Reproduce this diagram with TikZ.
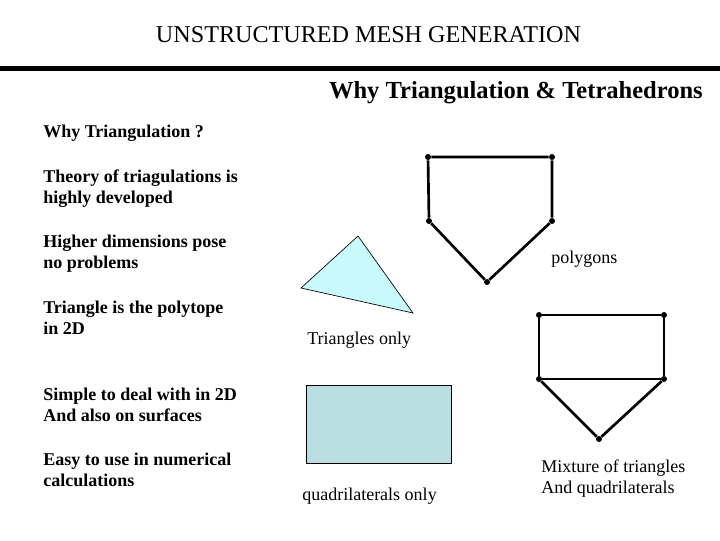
\documentclass[tikz,border=0pt]{standalone}
\usepackage{fontspec}
\setmainfont{Liberation Serif}
\usetikzlibrary{positioning}
\definecolor{trifill}{HTML}{C8FAFC}
\definecolor{quadfill}{HTML}{BADFE2}

\begin{document}
\begin{tikzpicture}[x=0.75pt,y=-0.75pt,
  vtx/.style={circle,fill=black,inner sep=0pt,minimum size=4.5pt},
  edge/.style={line width=2pt,line join=round},
  why/.style={anchor=west,align=left,inner sep=0pt,font=\bfseries\fontsize{13.5}{15.75}\selectfont},
  lbl/.style={anchor=west,align=left,inner sep=0pt,font=\fontsize{13.5}{15.75}\selectfont}]
\useasboundingbox (0,0) rectangle (720,540);
\node[font=\fontsize{18.1}{21}\selectfont] (title) at (368.5,35) {UNSTRUCTURED MESH GENERATION};
\fill (0,66) rectangle (720,71);
\node[anchor=east,inner sep=0pt,font=\bfseries\fontsize{18.4}{21}\selectfont] (sub) at (703,93) {Why Triangulation \& Tetrahedrons};
\node[why] (q) at (43,133) {Why Triangulation ?};
\node[why] (p1) at (43,188.5) {Theory of triagulations is\\highly developed};
\node[why] (p2) at (43,253.5) {Higher dimensions pose\\no problems};
\node[why] (p3) at (43,317.5) {Triangle is the polytope\\in 2D};
\node[why] (p4) at (43,404.5) {Simple to deal with in 2D\\And also on surfaces};
\node[why] (p5) at (43,469.5) {Easy to use in numerical\\calculations};
% triangle
\coordinate (ta) at (301,288);
\coordinate (tb) at (358,236);
\coordinate (tc) at (413,313);
\filldraw[fill=trifill,draw=black,line width=0.5pt] (ta) -- (tb) -- (tc) -- cycle;
\node[lbl] (tri) at (307,340) {Triangles only};
% polygon
\node[vtx] (a1) at (428,157) {};
\node[vtx] (a2) at (552,157) {};
\node[vtx] (a3) at (552,221) {};
\node[vtx] (a4) at (429,221) {};
\node[vtx] (a5) at (487,282) {};
\draw[edge] (a1) -- (a2) -- (a3) -- (a5) -- (a4) -- (a1);
\node[lbl] (poly) at (551,259) {polygons};
% quadrilateral
\coordinate (qa) at (306,385);
\coordinate (qb) at (451,463);
\filldraw[fill=quadfill,draw=black,line width=0.5pt] (qa) rectangle (qb);
\node[lbl] (quad) at (302,496) {quadrilaterals only};
% mixture
\node[vtx] (b1) at (539,315) {};
\node[vtx] (b2) at (664,315) {};
\node[vtx] (b3) at (664,379) {};
\node[vtx] (b4) at (539,379) {};
\node[vtx] (b5) at (599,439) {};
\draw[edge] (b1) -- (b2) -- (b3) -- (b4) -- (b1);
\draw[edge] (b4) -- (b5) -- (b3);
\node[lbl] (mix) at (541,479) {Mixture of triangles\\And quadrilaterals};
\end{tikzpicture}
\end{document}
